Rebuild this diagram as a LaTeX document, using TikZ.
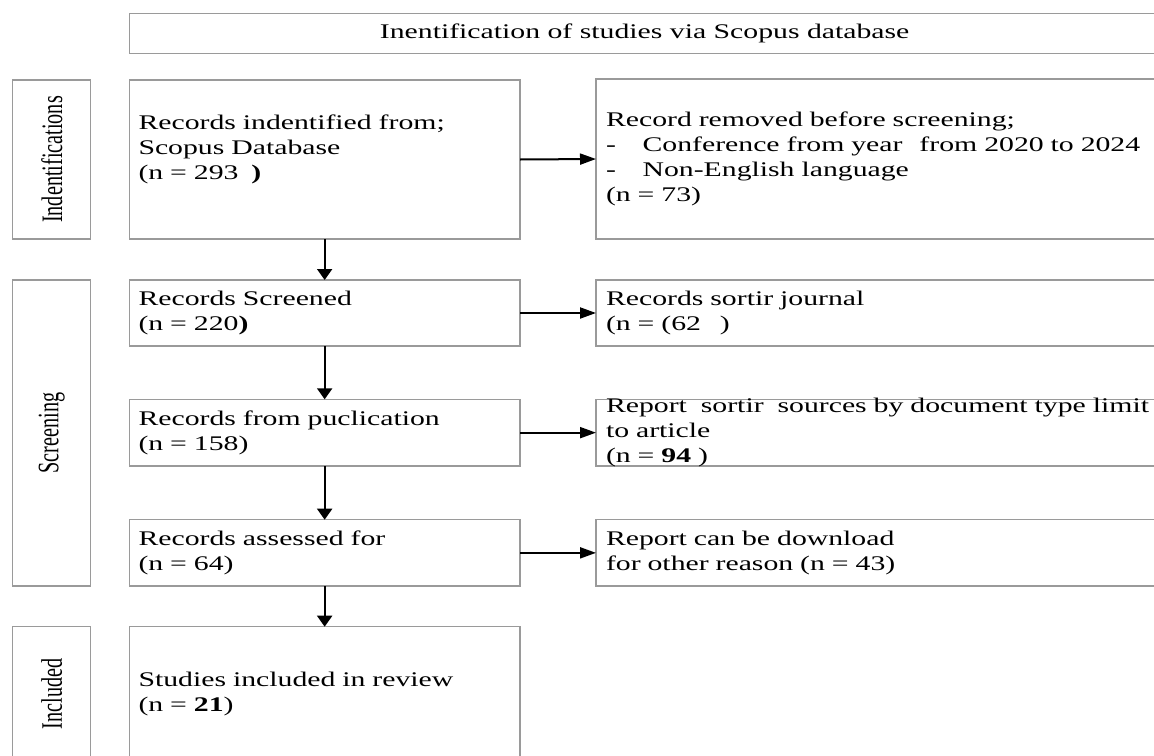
\documentclass[tikz,border=0pt]{standalone}
\usepackage{fontspec}
\setmainfont{Liberation Serif}[FakeStretch=1.43]
\newfontfamily\lanefont{Liberation Serif}[FakeStretch=0.68]
\usetikzlibrary{arrows.meta,positioning}
\definecolor{prismaEdge}{HTML}{9A9A9A}
\newcommand{\dashitem}{\makebox[18.3pt][l]{-}}

\begin{document}
\begin{tikzpicture}[x=0.5pt,y=-0.5pt,
    font=\fontsize{10.4pt}{12.5pt}\selectfont,
    lane/.style={draw=prismaEdge,line width=0.6pt,outer sep=0pt,inner sep=0pt,
                 rotate=90,minimum height=39pt,
                 font=\lanefont\fontsize{14.85pt}{16pt}\selectfont},
    stagebox/.style={draw=prismaEdge,line width=0.6pt,outer sep=0pt,
                 inner ysep=0pt,inner xsep=4.6pt,align=left,
                 minimum width=195.35pt,text width=186.15pt},
    exclbox/.style={stagebox,inner xsep=5pt,
                 minimum width=302pt,text width=292pt},
    flow/.style={-{Triangle[length=8pt,width=5.5pt]},line width=1pt},
    downflow/.style={-{Triangle[length=5.5pt,width=7.5pt]},line width=1pt}]
  \useasboundingbox (0,0) rectangle (1154,755);

  % header
  \node[draw=prismaEdge,line width=0.6pt,outer sep=0pt,inner sep=0pt,
        minimum width=515.35pt,minimum height=20pt] (head) at (644.65,33.3)
    {Inentification of studies via Scopus database};

  % phase labels
  \node[lane,minimum width=79.5pt] (idlane)  at (51.7,159.5) {Indentifications};
  \node[lane,minimum width=153pt]  (scrlane) at (51.7,433)   {Screening};
  \node[lane,minimum width=67.15pt] (inclane) at (51.7,693.85) {Included};

  % main column
  \node[stagebox,minimum height=79.5pt] (b1) at (324.65,159.5)
    {Records indentified from;\\Scopus Database\\(n = 293\hspace{3pt} \textbf{)}\\ \mbox{}};
  \node[stagebox,minimum height=33pt] (b2) at (324.65,313)
    {Records Screened\\(n = 220\textbf{)}};
  \node[stagebox,minimum height=33.35pt] (b3) at (324.65,432.65)
    {Records from puclication\\(n = 158)};
  \node[stagebox,minimum height=33.15pt] (b4) at (324.65,552.85)
    {Records assessed for\\(n = 64)};
  \node[stagebox,minimum height=67.15pt] (b5) at (324.65,693.85)
    {Studies included in review\\(n = \textbf{21})};

  % removed records
  \node[exclbox,minimum height=80pt] (r1) at (898,159)
    {Record removed before screening;\\
     \dashitem Conference from year\hspace{5pt} from 2020 to 2024\\
     \dashitem Non-English language\\
     (n = 73)};
  \node[exclbox,minimum height=33pt] (r2) at (898,313)
    {Records sortir journal\\(n = (62\hspace{6pt} )};
  \node[exclbox,minimum height=33.35pt,inner ysep=-1pt] (r3) at (898,432.65)
    {Report\hspace{3.5pt} sortir\hspace{3.5pt} sources by document type limit\\
     to article\\(n = \textbf{94} )};
  \node[exclbox,minimum height=33.15pt] (r4) at (898,552.85)
    {Report can be download\\for other reason (n = 43)};

  % connectors
  \foreach \a/\b in {b1/b2,b2/b3,b3/b4,b4/b5}
    \draw[downflow] (\a.south) -- (\b.north);
  \foreach \a/\b in {b1/r1,b2/r2,b3/r3,b4/r4}
    \draw[flow] (\a.east) -- (\b.west);
\end{tikzpicture}
\end{document}
